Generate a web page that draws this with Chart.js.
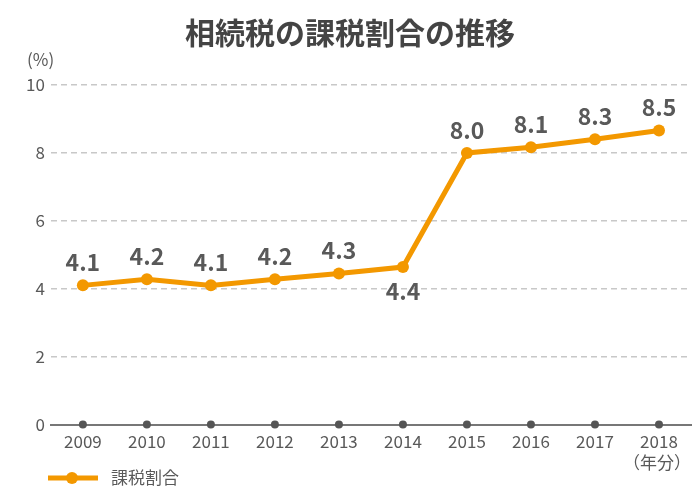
<!DOCTYPE html>
<html>
<head>
<meta charset="utf-8">
<script src="https://cdn.jsdelivr.net/npm/chart.js@4"></script>
<style>
  html, body { margin: 0; padding: 0; background: #fff; }
  #chart { display: block; }
</style>
</head>
<body>
<canvas id="chart" width="700" height="500"></canvas>
<script>
const FONT = '"Noto Sans CJK JP", "Noto Sans", sans-serif';

// Data
const years = ['2009', '2010', '2011', '2012', '2013', '2014', '2015', '2016', '2017', '2018'];
const taxRatio = [4.1, 4.28, 4.1, 4.28, 4.45, 4.64, 8.0, 8.17, 8.4, 8.66];
const ratioLabels = ['4.1', '4.2', '4.1', '4.2', '4.3', '4.4', '8.0', '8.1', '8.3', '8.5'];
const yTicks = [0, 2, 4, 6, 8, 10];

const titleText = '相続税の課税割合の推移';
const seriesName = '課税割合';
const orange = '#f39800';
const textGray = '#595959';

// Extra drawing: title, units, value labels, dots on the base line, legend
const decorPlugin = {
  id: 'decor',
  afterDatasetsDraw(chart) {
    const ctx = chart.ctx;
    const xs = chart.scales.x;
    const ys = chart.scales.y;
    ctx.save();

    // dots on zero line
    ctx.fillStyle = '#555';
    years.forEach((_, i) => {
      ctx.beginPath();
      ctx.arc(xs.getPixelForValue(i), ys.getPixelForValue(0), 4, 0, Math.PI * 2);
      ctx.fill();
    });

    // value labels
    ctx.fillStyle = textGray;
    ctx.font = `600 23px ${FONT}`;
    ctx.textAlign = 'center';
    ctx.textBaseline = 'middle';
    const meta = chart.getDatasetMeta(0);
    meta.data.forEach((pt, i) => {
      const below = i === 5;
      ctx.fillText(ratioLabels[i], pt.x, pt.y + (below ? 24 : -23));
    });

    // title
    ctx.fillStyle = '#444';
    ctx.font = `bold 30px ${FONT}`;
    ctx.fillText(titleText, 350, 33);

    // units
    ctx.fillStyle = textGray;
    ctx.font = `17px ${FONT}`;
    ctx.textAlign = 'left';
    ctx.fillText('(%)', 27, 60);
    ctx.textAlign = 'center';
    ctx.fillText('（年分）', 657, 463);

    // legend
    ctx.strokeStyle = orange;
    ctx.lineWidth = 5;
    ctx.beginPath();
    ctx.moveTo(48, 478);
    ctx.lineTo(98, 478);
    ctx.stroke();
    ctx.fillStyle = orange;
    ctx.beginPath();
    ctx.arc(72, 478, 6, 0, Math.PI * 2);
    ctx.fill();
    ctx.fillStyle = textGray;
    ctx.font = `17px ${FONT}`;
    ctx.textAlign = 'left';
    ctx.fillText(seriesName, 111, 478);

    ctx.restore();
  }
};

new Chart(document.getElementById('chart'), {
  type: 'line',
  data: {
    labels: years,
    datasets: [{
      label: seriesName,
      data: taxRatio,
      borderColor: orange,
      backgroundColor: orange,
      borderWidth: 5,
      pointRadius: 6,
      pointBackgroundColor: orange,
      pointBorderWidth: 0,
      tension: 0
    }]
  },
  options: {
    responsive: false,
    animation: false,
    layout: { padding: { top: 85, left: 20, right: 9, bottom: 41 } },
    plugins: {
      legend: { display: false },
      title: { display: false },
      tooltip: { enabled: false }
    },
    scales: {
      x: {
        offset: true,
        grid: { display: false, drawTicks: false },
        border: { display: true, color: '#777', width: 2 },
        ticks: { color: textGray, font: { family: FONT, size: 17 }, padding: 7 }
      },
      y: {
        min: 0,
        max: 10,
        afterBuildTicks: (axis) => { axis.ticks = yTicks.map(v => ({ value: v })); },
        grid: { color: '#c8c8c8', lineWidth: 1.5, drawTicks: false },
        border: { display: false, dash: [6, 4] },
        ticks: { color: textGray, font: { family: FONT, size: 17 }, padding: 6 }
      }
    }
  },
  plugins: [decorPlugin]
});
</script>
</body>
</html>
